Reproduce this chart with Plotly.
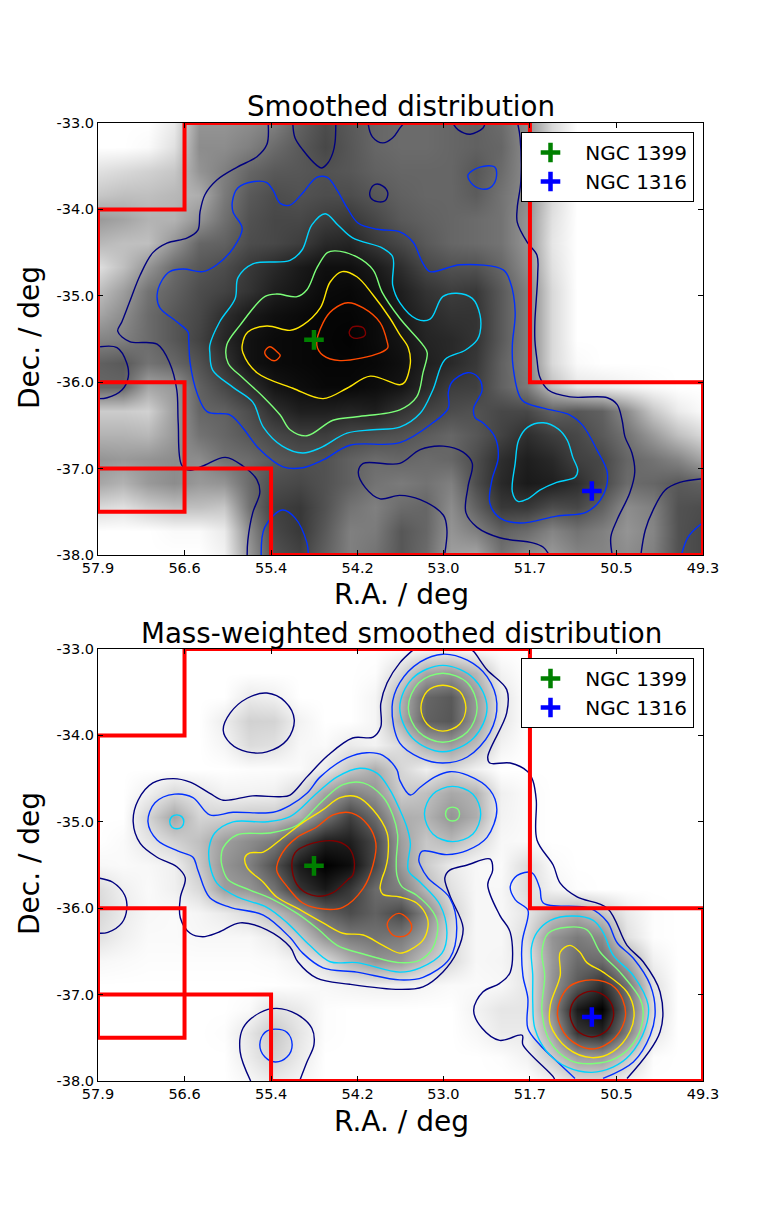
import numpy as np
import plotly.graph_objects as go

# the page body adds an 8px margin, so the figure is 8px smaller and everything sits 8px up-left
W, H = 773, 1197
OFF = 8
FONT = "DejaVu Sans"

tick_ra = [57.9, 56.67, 55.44, 54.21, 52.99, 51.76, 50.53, 49.3]
tick_ra_text = ["57.9", "56.6", "55.4", "54.2", "53.0", "51.7", "50.5", "49.3"]
tick_dec = [-33, -34, -35, -36, -37, -38]
tick_dec_text = ["-33.0", "-34.0", "-35.0", "-36.0", "-37.0", "-38.0"]

ngc1399 = ([54.83], [-35.51])
ngc1316 = ([50.88], [-37.26])

red_ra = [57.9, 56.67, 56.67, 51.76, 51.76, 49.3, 49.3, 55.44, 55.44, 57.9, None,
          57.9, 56.67, 56.67, 57.9, None, 57.9, 57.9]
red_dec = [-34, -34, -33, -33, -36, -36, -38, -38, -37, -37, None,
           -36, -36, -37.5, -37.5, None, -34, -37.5]

# darkness 0-100, rows from Dec -33 to -38
smooth_grid = [
    [0, 0, 0, 8, 42, 42, 45, 50, 62, 70, 65, 60, 58, 58, 60, 62, 58, 45, 15, 0, 0, 0, 0, 0, 0],
    [0, 0, 2, 12, 45, 45, 50, 58, 65, 72, 66, 60, 58, 58, 60, 62, 60, 45, 15, 0, 0, 0, 0, 0, 0],
    [12, 15, 18, 22, 42, 50, 60, 65, 66, 68, 66, 62, 60, 60, 60, 66, 58, 45, 15, 0, 0, 0, 0, 0, 0],
    [22, 25, 25, 28, 32, 52, 65, 70, 68, 70, 70, 66, 62, 60, 60, 64, 55, 45, 15, 0, 0, 0, 0, 0, 0],
    [40, 36, 30, 30, 42, 56, 68, 72, 72, 76, 78, 72, 65, 62, 60, 58, 55, 42, 12, 0, 0, 0, 0, 0, 0],
    [28, 25, 25, 42, 60, 62, 70, 72, 76, 84, 86, 78, 72, 65, 60, 58, 55, 42, 10, 0, 0, 0, 0, 0, 0],
    [12, 25, 42, 58, 66, 70, 78, 84, 90, 94, 94, 90, 82, 72, 68, 68, 60, 45, 12, 0, 0, 0, 0, 0, 0],
    [25, 38, 55, 62, 70, 74, 80, 88, 92, 96, 97, 94, 88, 80, 76, 78, 65, 50, 15, 0, 0, 0, 0, 0, 0],
    [35, 45, 58, 66, 72, 82, 90, 94, 96, 98, 98, 96, 90, 84, 80, 80, 65, 50, 15, 0, 0, 0, 0, 0, 0],
    [48, 50, 58, 66, 74, 85, 93, 96, 97, 98, 99, 96, 92, 86, 84, 80, 65, 50, 15, 0, 0, 0, 0, 0, 0],
    [62, 65, 55, 60, 68, 80, 93, 96, 97, 98, 98, 97, 94, 88, 84, 78, 62, 50, 15, 2, 0, 0, 0, 0, 0],
    [60, 60, 35, 40, 62, 72, 82, 92, 95, 97, 97, 95, 92, 84, 76, 75, 62, 52, 25, 10, 8, 5, 2, 0, 0],
    [20, 20, 18, 38, 60, 62, 70, 82, 88, 88, 86, 88, 80, 74, 70, 68, 72, 72, 62, 66, 62, 45, 22, 8, 2],
    [30, 30, 28, 40, 55, 60, 66, 72, 76, 76, 72, 70, 68, 64, 60, 66, 74, 82, 76, 72, 65, 55, 40, 25, 15],
    [42, 40, 42, 45, 45, 55, 58, 65, 68, 68, 62, 58, 60, 58, 60, 70, 82, 88, 84, 75, 72, 60, 55, 48, 35],
    [35, 30, 40, 45, 40, 42, 58, 70, 72, 68, 62, 55, 52, 55, 50, 70, 84, 90, 88, 82, 72, 58, 60, 65, 62],
    [15, 12, 20, 25, 25, 22, 55, 75, 78, 68, 55, 50, 58, 60, 45, 62, 78, 78, 70, 72, 62, 45, 50, 68, 70],
    [0, 0, 0, 2, 2, 8, 45, 72, 78, 65, 50, 52, 66, 60, 42, 50, 62, 58, 48, 55, 50, 42, 48, 68, 72],
    [0, 0, 0, 0, 0, 5, 40, 68, 74, 62, 50, 55, 66, 58, 38, 35, 55, 45, 40, 48, 48, 45, 50, 68, 72],
]

# same for the lower, mass-weighted map
mass_grid = [
    [0, 0, 0, 0, 0, 0, 0, 0, 0, 0, 0, 0, 1, 3, 3, 1, 0, 0, 0, 0, 0, 0, 0, 0, 0],
    [0, 0, 0, 0, 0, 0, 0, 0, 0, 0, 0, 1, 15, 35, 40, 28, 5, 0, 0, 0, 0, 0, 0, 0, 0],
    [0, 0, 0, 0, 0, 0, 8, 6, 0, 0, 0, 4, 30, 60, 65, 40, 10, 0, 0, 0, 0, 0, 0, 0, 0],
    [0, 0, 0, 0, 0, 7, 18, 17, 5, 0, 0, 4, 32, 62, 66, 40, 10, 0, 0, 0, 0, 0, 0, 0, 0],
    [0, 0, 0, 0, 0, 4, 14, 12, 3, 2, 8, 5, 14, 32, 38, 25, 5, 0, 0, 0, 0, 0, 0, 0, 0],
    [0, 0, 0, 0, 0, 0, 1, 1, 2, 8, 22, 32, 16, 6, 15, 6, 0, 0, 0, 0, 0, 0, 0, 0, 0],
    [0, 0, 6, 15, 10, 5, 5, 6, 15, 36, 50, 42, 20, 25, 34, 30, 6, 2, 0, 0, 0, 0, 0, 0, 0],
    [0, 0, 17, 35, 17, 18, 22, 22, 32, 55, 75, 58, 32, 30, 42, 32, 5, 2, 0, 0, 0, 0, 0, 0, 0],
    [0, 2, 10, 18, 25, 38, 45, 52, 72, 88, 88, 72, 38, 22, 28, 16, 3, 2, 0, 0, 0, 0, 0, 0, 0],
    [3, 2, 3, 6, 22, 42, 50, 68, 90, 100, 95, 72, 40, 20, 8, 3, 2, 14, 2, 0, 0, 0, 0, 0, 0],
    [14, 6, 2, 6, 15, 38, 42, 55, 80, 90, 78, 58, 50, 28, 12, 3, 3, 14, 5, 1, 0, 0, 0, 0, 0],
    [16, 8, 3, 2, 4, 8, 14, 26, 42, 62, 70, 62, 72, 48, 18, 3, 3, 10, 24, 32, 22, 8, 1, 0, 0],
    [12, 6, 2, 2, 3, 3, 3, 8, 22, 42, 52, 55, 52, 38, 14, 3, 3, 14, 42, 52, 45, 12, 1, 0, 0],
    [3, 2, 1, 1, 1, 1, 1, 2, 6, 14, 30, 42, 40, 24, 14, 3, 4, 10, 40, 58, 58, 35, 6, 0, 0],
    [0, 0, 0, 0, 0, 0, 0, 0, 1, 3, 5, 6, 6, 4, 2, 2, 3, 10, 42, 65, 82, 55, 12, 0, 0],
    [0, 0, 0, 0, 0, 0, 2, 12, 8, 1, 0, 0, 0, 0, 0, 5, 10, 10, 45, 90, 100, 60, 14, 0, 0],
    [0, 0, 0, 0, 0, 1, 10, 22, 10, 1, 0, 0, 0, 0, 0, 3, 8, 8, 35, 78, 85, 50, 10, 0, 0],
    [0, 0, 0, 0, 0, 0, 8, 18, 8, 0, 0, 0, 0, 0, 0, 0, 1, 5, 20, 38, 40, 22, 1, 0, 0],
    [0, 0, 0, 0, 0, 0, 3, 8, 4, 0, 0, 0, 0, 0, 0, 0, 0, 0, 5, 14, 14, 5, 0, 0, 0],
]

navy = "#00007f"
blue = "#0030ff"
cyan = "#00d4ff"
green = "#7cff79"
yellow = "#ffe600"
orange = "#ff4a00"
darkred = "#7f0000"

# contour lines, (R.A., Dec.)
s_navy_a = ([55.48, 55.50, 55.64, 55.92, 56.21, 56.38, 56.45, 56.48, 56.63, 56.92, 57.12, 57.30, 57.45, 57.56, 57.62, 57.45, 57.06, 56.88, 56.78, 56.76, 56.71, 56.59, 56.41, 56.09, 55.84, 55.64, 55.60, 55.70, 55.77, 55.78],
            [-33.02, -33.25, -33.39, -33.51, -33.66, -33.83, -34.03, -34.24, -34.33, -34.39, -34.50, -34.76, -35.07, -35.30, -35.41, -35.53, -35.56, -35.78, -36.09, -36.47, -36.96, -37.02, -36.97, -36.87, -36.97, -37.13, -37.28, -37.51, -37.83, -38.01])
s_navy_b = ([55.13, 55.10, 54.99, 54.79, 54.72, 54.63, 54.56, 54.53, 54.52],
            [-33.02, -33.17, -33.31, -33.49, -33.52, -33.46, -33.34, -33.22, -33.02])
s_navy_c = ([54.06, 54.00, 53.85, 53.71, 53.61, 53.56], [-33.01, -33.16, -33.23, -33.17, -33.06, -33.01])
s_navy_d = ([52.85, 52.78, 52.61, 52.43, 52.40], [-33.01, -33.08, -33.13, -33.06, -33.01])
s_navy_e = ([54.03, 53.96, 53.85, 53.78, 53.82, 53.93, 54.02, 54.03],
            [-33.78, -33.71, -33.73, -33.81, -33.90, -33.91, -33.87, -33.78])
s_navy_f = ([51.93, 51.90, 51.89, 51.94, 51.94, 51.80, 51.66, 51.65, 51.69, 51.69, 51.66, 51.62, 51.50, 51.19, 50.66, 50.52, 50.45, 50.41, 50.31, 50.27, 50.34, 50.52, 50.61, 50.59],
            [-33.02, -33.17, -33.68, -33.98, -34.15, -34.38, -34.53, -34.76, -35.30, -35.51, -35.74, -35.94, -36.09, -36.17, -36.18, -36.26, -36.44, -36.63, -36.82, -37.04, -37.28, -37.59, -37.79, -38.0])
s_navy_g = ([50.18, 50.12, 50.01, 49.84, 49.63, 49.34, 49.30], [-37.98, -37.71, -37.48, -37.25, -37.16, -37.12, -37.12])
s_navy_h = ([57.87, 57.63, 57.49, 57.47, 57.56, 57.77, 57.89], [-35.59, -35.60, -35.78, -35.94, -36.09, -36.18, -36.19])
s_navy_i = ([51.50, 51.57, 51.72, 52.19, 52.51, 52.67, 52.64, 52.58, 52.71, 52.99, 53.32, 53.61, 54.13, 54.20, 54.10, 53.89, 53.61, 53.32, 52.99, 52.94, 52.97],
            [-37.98, -37.91, -37.86, -37.80, -37.68, -37.51, -37.21, -36.94, -36.81, -36.74, -36.78, -36.94, -36.94, -37.04, -37.22, -37.35, -37.31, -37.36, -37.54, -37.71, -37.98])
s_blue_a = ([56.62, 56.78, 57.02, 57.06, 56.99, 56.88, 56.69, 56.41, 56.21, 55.98, 55.85, 55.98, 55.99, 55.91, 55.70, 55.50, 55.41, 55.31, 55.17, 54.99, 54.79, 54.64, 54.50, 54.36, 54.20, 53.93, 53.61, 53.42, 53.29, 53.18, 52.75, 52.14, 52.04, 51.97, 52.01, 52.00, 51.87, 51.57, 51.19, 51.01, 50.81, 50.66, 50.72, 50.95, 51.38, 51.90, 52.19, 52.33, 52.30, 52.21, 52.26, 52.43, 52.54, 52.56, 52.44, 52.50, 52.65, 52.87, 52.92, 52.92, 53.14, 53.61, 54.32, 54.70, 54.99, 55.27, 55.60, 55.84, 56.02, 56.35, 56.49, 56.59, 56.61, 56.62],
            [-35.42, -35.30, -35.14, -34.99, -34.82, -34.72, -34.69, -34.72, -34.64, -34.45, -34.22, -34.03, -33.91, -33.75, -33.68, -33.69, -33.78, -33.93, -33.95, -33.81, -33.63, -33.63, -33.78, -33.98, -34.16, -34.23, -34.26, -34.38, -34.61, -34.72, -34.64, -34.70, -34.84, -35.19, -35.57, -35.82, -36.21, -36.30, -36.38, -36.50, -36.78, -37.05, -37.31, -37.50, -37.55, -37.63, -37.57, -37.40, -37.13, -36.87, -36.63, -36.47, -36.41, -36.30, -36.09, -35.94, -35.89, -36.00, -36.12, -36.30, -36.47, -36.70, -36.73, -36.90, -36.99, -36.98, -36.78, -36.53, -36.38, -36.34, -36.13, -35.78, -35.51, -35.42])
s_blue_b = ([52.64, 52.47, 52.26, 52.24, 52.33, 52.47, 52.60, 52.64], [-33.60, -33.51, -33.51, -33.64, -33.75, -33.76, -33.69, -33.60])
s_blue_c = ([55.58, 55.53, 55.28, 55.10, 54.93, 54.91], [-38.01, -37.68, -37.48, -37.57, -37.86, -38.0])
s_blue_d = ([49.60, 49.51, 49.34, 49.30], [-37.98, -37.79, -37.65, -37.63])
s_cyan_a = ([56.31, 56.17, 55.95, 55.91, 55.70, 55.17, 55.00, 54.86, 54.67, 54.49, 54.28, 53.85, 53.71, 53.71, 53.61, 53.37, 53.18, 53.00, 52.80, 52.58, 52.47, 52.47, 52.51, 52.68, 52.97, 53.14, 53.32, 53.61, 53.99, 54.36, 54.74, 54.99, 55.28, 55.55, 55.70, 55.98, 56.27, 56.31, 56.31],
            [-35.57, -35.30, -35.03, -34.79, -34.63, -34.59, -34.47, -34.18, -34.05, -34.18, -34.33, -34.45, -34.55, -34.88, -35.08, -35.27, -35.27, -35.01, -34.97, -35.03, -35.22, -35.43, -35.51, -35.63, -35.74, -36.09, -36.36, -36.52, -36.55, -36.59, -36.76, -36.82, -36.74, -36.52, -36.23, -36.06, -35.86, -35.66, -35.57])
s_cyan_b = ([51.92, 51.79, 51.57, 51.36, 51.23, 51.15, 51.08, 51.12, 51.38, 51.62, 51.79, 51.93, 52.01, 51.97, 51.92],
            [-36.67, -36.52, -36.47, -36.54, -36.67, -36.87, -37.02, -37.10, -37.16, -37.25, -37.35, -37.38, -37.27, -36.94, -36.67])
s_green = ([56.07, 55.88, 55.53, 55.36, 55.07, 54.93, 54.79, 54.64, 54.53, 54.22, 53.99, 53.86, 53.61, 53.28, 53.22, 53.28, 53.37, 53.61, 54.22, 54.56, 54.93, 55.17, 55.31, 55.55, 55.84, 56.05, 56.07],
           [-35.57, -35.34, -35.01, -34.98, -35.01, -34.93, -34.68, -34.50, -34.48, -34.55, -34.70, -34.96, -35.26, -35.57, -35.66, -35.89, -36.17, -36.32, -36.40, -36.44, -36.62, -36.55, -36.38, -36.17, -35.95, -35.78, -35.57])
s_yellow = ([55.85, 55.77, 55.50, 55.17, 54.99, 54.74, 54.60, 54.43, 54.22, 53.99, 53.75, 53.61, 53.49, 53.46, 53.54, 53.61, 54.03, 54.36, 54.70, 55.13, 55.64, 55.84, 55.85],
            [-35.57, -35.42, -35.35, -35.40, -35.34, -35.14, -34.84, -34.72, -34.78, -34.99, -35.26, -35.45, -35.60, -35.78, -36.00, -36.03, -35.93, -36.07, -36.19, -36.07, -35.89, -35.66, -35.57])
s_orange_a = ([54.79, 54.70, 54.56, 54.35, 54.13, 53.89, 53.79, 53.78, 53.89, 54.46, 54.70, 54.79],
              [-35.57, -35.31, -35.16, -35.08, -35.14, -35.31, -35.53, -35.60, -35.66, -35.75, -35.69, -35.57])
s_orange_b = ([55.53, 55.46, 55.34, 55.31, 55.38, 55.48, 55.53], [-35.65, -35.59, -35.66, -35.69, -35.75, -35.72, -35.65])
s_darkred = ([54.33, 54.28, 54.13, 54.10, 54.20, 54.29, 54.33], [-35.43, -35.36, -35.37, -35.45, -35.49, -35.48, -35.43])

m_navy_a = ([53.42, 53.61, 53.79, 53.88, 53.88, 53.99, 54.28, 54.63, 54.93, 55.17, 55.31, 55.70, 56.12, 56.31, 56.59, 56.83, 57.12, 57.33, 57.40, 57.30, 57.06, 56.78, 56.66, 56.73, 56.73, 56.59, 56.41, 56.19, 55.88, 55.50, 55.17, 55.06, 54.79, 54.32, 53.61, 53.28, 53.00, 52.80, 52.71, 52.90, 52.97, 52.90, 52.65, 52.33, 52.29, 52.36, 52.19, 52.04, 52.04, 52.19, 52.43, 52.56, 52.44, 52.19, 51.87, 51.86, 51.43, 51.40],
            [-33.01, -33.16, -33.39, -33.63, -33.90, -34.02, -34.03, -34.23, -34.48, -34.69, -34.71, -34.70, -34.75, -34.67, -34.54, -34.50, -34.55, -34.75, -35.00, -35.25, -35.41, -35.52, -35.65, -35.88, -36.11, -36.29, -36.33, -36.28, -36.17, -36.25, -36.45, -36.62, -36.81, -36.88, -36.94, -36.91, -36.74, -36.51, -36.23, -35.85, -35.65, -35.56, -35.50, -35.43, -35.56, -35.73, -36.08, -36.28, -36.74, -36.87, -36.97, -37.18, -37.39, -37.53, -37.47, -37.58, -37.95, -38.0])
m_navy_b = ([50.38, 49.91, 49.91, 50.15, 50.38, 50.66, 51.09, 51.33, 51.43, 51.66, 51.67, 51.72, 51.79, 52.04, 52.33, 52.36, 52.09, 52.09, 52.37, 52.56, 52.61],
            [-37.97, -37.43, -36.97, -36.62, -36.43, -36.00, -35.87, -35.71, -35.50, -35.21, -34.75, -34.52, -34.42, -34.32, -34.32, -34.25, -33.74, -33.47, -33.24, -33.03, -33.0])
m_navy_c = ([56.12, 56.02, 55.78, 55.50, 55.24, 55.11, 55.21, 55.50, 55.78, 56.02, 56.12],
            [-33.94, -33.74, -33.57, -33.51, -33.61, -33.82, -34.05, -34.19, -34.19, -34.09, -33.94])
m_navy_d = ([57.89, 57.69, 57.52, 57.49, 57.56, 57.76, 57.89], [-35.65, -35.70, -35.85, -36.00, -36.17, -36.28, -36.29])
m_navy_e = ([55.73, 55.88, 55.84, 55.60, 55.36, 55.07, 54.86, 54.83, 54.93, 55.03],
            [-38.0, -37.66, -37.39, -37.21, -37.16, -37.23, -37.39, -37.58, -37.78, -37.99])
m_blue_a = ([56.48, 56.55, 56.76, 57.06, 57.19, 57.09, 56.81, 56.55, 56.31, 55.98, 55.41, 55.17, 54.93, 54.74, 54.36, 54.08, 53.85, 53.65, 53.61, 53.46, 53.32, 53.11, 52.90, 52.65, 52.33, 52.23, 52.37, 52.65, 52.94, 53.29, 53.34, 53.32, 53.21, 52.90, 52.80, 52.90, 53.28, 53.61, 54.22, 54.70, 54.99, 55.17, 55.55, 56.02, 56.31, 56.48],
            [-35.56, -35.41, -35.34, -35.21, -35.00, -34.78, -34.68, -34.72, -34.92, -34.89, -34.89, -34.81, -34.67, -34.48, -34.26, -34.20, -34.23, -34.40, -34.52, -34.69, -34.60, -34.48, -34.42, -34.46, -34.63, -34.86, -35.18, -35.33, -35.38, -35.34, -35.44, -35.50, -35.65, -35.88, -36.23, -36.58, -36.80, -36.83, -36.74, -36.69, -36.52, -36.34, -36.08, -35.99, -35.88, -35.56])
m_blue_b = ([53.00, 52.65, 52.37, 52.23, 52.33, 52.65, 53.00, 53.32, 53.61, 53.72, 53.61, 53.32, 53.00],
            [-33.06, -33.13, -33.32, -33.63, -33.97, -34.25, -34.32, -34.26, -34.09, -33.67, -33.39, -33.15, -33.06])
m_blue_c = ([55.60, 55.53, 55.38, 55.21, 55.14, 55.21, 55.38, 55.53, 55.60],
            [-37.58, -37.44, -37.40, -37.44, -37.58, -37.72, -37.78, -37.72, -37.58])
m_blue_d = ([51.12, 51.33, 51.62, 51.79, 51.79, 51.86, 51.87, 51.79, 51.79, 51.97, 52.04, 51.94, 51.73, 51.62, 51.57, 50.91, 50.66, 50.52, 50.29, 50.05, 49.98, 50.05, 50.29, 50.72],
            [-37.97, -37.81, -37.58, -37.39, -37.04, -36.78, -36.39, -36.11, -36.02, -35.90, -35.75, -35.62, -35.59, -35.77, -35.94, -36.00, -36.16, -36.40, -36.58, -36.89, -37.20, -37.47, -37.78, -37.97])
m_cyan_a = ([56.32, 56.24, 55.98, 55.50, 55.17, 54.79, 54.50, 54.18, 53.93, 53.75, 53.61, 53.51, 53.46, 53.49, 53.32, 53.04, 52.94, 53.01, 53.32, 53.61, 54.22, 54.60, 54.89, 55.21, 55.50, 55.92, 56.21, 56.31, 56.32],
            [-35.30, -35.13, -35.00, -35.00, -34.94, -34.67, -34.48, -34.38, -34.44, -34.63, -34.86, -35.06, -35.25, -35.56, -35.70, -35.96, -36.28, -36.52, -36.69, -36.74, -36.63, -36.62, -36.43, -36.17, -35.99, -35.87, -35.71, -35.50, -35.30])
m_cyan_b = ([53.00, 52.56, 52.37, 52.56, 53.00, 53.43, 53.61, 53.43, 53.00],
            [-33.19, -33.34, -33.68, -34.03, -34.19, -34.03, -33.68, -33.34, -33.19])
m_cyan_c = ([52.86, 52.57, 52.46, 52.57, 52.86, 53.14, 53.26, 53.14, 52.86],
            [-34.59, -34.68, -34.91, -35.14, -35.23, -35.14, -34.91, -34.68, -34.59])
m_cyan_d = ([56.78, 56.71, 56.68, 56.71, 56.78, 56.85, 56.88, 56.85, 56.78],
            [-34.92, -34.94, -35.00, -35.06, -35.08, -35.06, -35.00, -34.94, -34.92])
m_cyan_e = ([50.88, 51.23, 51.52, 51.69, 51.72, 51.72, 51.74, 51.66, 51.47, 51.15, 50.86, 50.72, 50.58, 50.29, 50.08, 50.12, 50.34, 50.58, 50.88],
            [-37.90, -37.84, -37.66, -37.39, -37.09, -36.78, -36.46, -36.28, -36.14, -36.09, -36.14, -36.28, -36.54, -36.78, -37.12, -37.39, -37.70, -37.84, -37.90])
m_green_a = ([56.15, 56.12, 55.92, 55.46, 55.07, 54.70, 54.42, 54.13, 53.85, 53.71, 53.64, 53.66, 53.65, 53.58, 53.37, 53.14, 53.07, 53.14, 53.32, 53.61, 54.13, 54.50, 54.79, 55.07, 55.46, 55.74, 56.05, 56.14, 56.15],
             [-35.41, -35.30, -35.15, -35.13, -35.04, -34.75, -34.57, -34.55, -34.71, -34.92, -35.15, -35.44, -35.62, -35.75, -35.85, -36.04, -36.19, -36.46, -36.60, -36.63, -36.53, -36.43, -36.23, -36.06, -35.88, -35.79, -35.67, -35.50, -35.41])
m_green_b = ([53.00, 52.65, 52.51, 52.65, 53.00, 53.34, 53.49, 53.34, 53.00],
             [-33.28, -33.39, -33.68, -33.96, -34.08, -33.96, -33.68, -33.39, -33.28])
m_green_c = ([52.86, 52.79, 52.76, 52.79, 52.86, 52.93, 52.96, 52.93, 52.86],
             [-34.83, -34.85, -34.91, -34.97, -34.99, -34.97, -34.91, -34.85, -34.83])
m_green_d = ([50.88, 51.19, 51.47, 51.59, 51.55, 51.59, 51.50, 51.23, 50.95, 50.76, 50.48, 50.20, 50.15, 50.24, 50.52, 50.88],
             [-37.80, -37.76, -37.55, -37.20, -36.78, -36.51, -36.29, -36.22, -36.25, -36.51, -36.74, -37.04, -37.20, -37.50, -37.73, -37.80])
m_yellow_a = ([55.81, 55.74, 55.55, 55.31, 54.99, 54.70, 54.46, 54.22, 53.99, 53.79, 53.78, 53.82, 53.86, 53.89, 53.85, 53.61, 53.37, 53.22, 53.21, 53.28, 53.46, 53.61, 53.85, 54.13, 54.42, 54.70, 55.07, 55.36, 55.55, 55.78, 55.81],
              [-35.41, -35.36, -35.35, -35.21, -35.01, -34.86, -34.72, -34.71, -34.86, -35.13, -35.41, -35.56, -35.65, -35.77, -35.84, -35.87, -35.94, -36.11, -36.22, -36.37, -36.48, -36.52, -36.43, -36.31, -36.29, -36.17, -36.00, -35.87, -35.70, -35.53, -35.41])
m_yellow_b = ([53.00, 52.76, 52.67, 52.76, 53.00, 53.22, 53.31, 53.22, 53.00],
              [-33.42, -33.49, -33.68, -33.87, -33.95, -33.87, -33.68, -33.49, -33.42])
m_yellow_c = ([50.88, 51.23, 51.47, 51.47, 51.33, 51.33, 51.19, 51.05, 50.95, 50.72, 50.38, 50.28, 50.34, 50.58, 50.88],
              [-37.73, -37.62, -37.35, -37.12, -36.78, -36.51, -36.43, -36.51, -36.63, -36.74, -36.97, -37.20, -37.43, -37.66, -37.73])
m_orange_a = ([55.36, 55.28, 55.07, 54.79, 54.56, 54.29, 54.06, 53.95, 53.99, 54.13, 54.42, 54.70, 54.99, 55.21, 55.36],
              [-35.56, -35.36, -35.18, -35.06, -34.92, -34.90, -35.04, -35.25, -35.50, -35.77, -35.99, -36.01, -35.94, -35.75, -35.56])
m_orange_b = ([53.79, 53.71, 53.62, 53.51, 53.44, 53.51, 53.62, 53.71, 53.79],
              [-36.19, -36.09, -36.06, -36.11, -36.22, -36.31, -36.33, -36.31, -36.19])
m_orange_c = ([50.88, 50.55, 50.40, 50.55, 50.88, 51.22, 51.37, 51.22, 50.88],
              [-36.83, -36.92, -37.22, -37.50, -37.63, -37.50, -37.22, -36.92, -36.83])
m_darkred_a = ([55.14, 55.10, 54.93, 54.56, 54.35, 54.26, 54.28, 54.35, 54.56, 54.79, 55.03, 55.14],
               [-35.56, -35.36, -35.27, -35.22, -35.29, -35.44, -35.62, -35.67, -35.82, -35.86, -35.77, -35.56])
m_darkred_b = ([50.88, 50.66, 50.57, 50.66, 50.88, 51.10, 51.19, 51.10, 50.88],
               [-36.96, -37.04, -37.22, -37.41, -37.49, -37.41, -37.22, -37.04, -36.96])

smooth_lines = [
    (navy, s_navy_a), (navy, s_navy_b), (navy, s_navy_c), (navy, s_navy_d), (navy, s_navy_e),
    (navy, s_navy_f), (navy, s_navy_g), (navy, s_navy_h), (navy, s_navy_i),
    (blue, s_blue_a), (blue, s_blue_b), (blue, s_blue_c), (blue, s_blue_d),
    (cyan, s_cyan_a), (cyan, s_cyan_b), (green, s_green), (yellow, s_yellow),
    (orange, s_orange_a), (orange, s_orange_b), (darkred, s_darkred),
]
mass_lines = [
    (navy, m_navy_a), (navy, m_navy_b), (navy, m_navy_c), (navy, m_navy_d), (navy, m_navy_e),
    (blue, m_blue_a), (blue, m_blue_b), (blue, m_blue_c), (blue, m_blue_d),
    (cyan, m_cyan_a), (cyan, m_cyan_b), (cyan, m_cyan_c), (cyan, m_cyan_d), (cyan, m_cyan_e),
    (green, m_green_a), (green, m_green_b), (green, m_green_c), (green, m_green_d),
    (yellow, m_yellow_a), (yellow, m_yellow_b), (yellow, m_yellow_c),
    (orange, m_orange_a), (orange, m_orange_b), (orange, m_orange_c),
    (darkred, m_darkred_a), (darkred, m_darkred_b),
]

grid_ra = np.linspace(57.9, 49.3, 25)
grid_dec = np.linspace(-33, -38, 19)


def px_x(px):
    return (px - OFF) / W


def px_y(py):
    return 1 - (py - OFF) / H


def add_panel(fig, grid, lines, n, legend):
    ax = "" if n == 1 else str(n)
    fig.add_trace(go.Heatmap(
        x=grid_ra, y=grid_dec, z=grid, zmin=0, zmax=100, zsmooth="best",
        colorscale=[[0, "#ffffff"], [1, "#000000"]], showscale=False, hoverinfo="skip",
        xaxis="x" + ax, yaxis="y" + ax,
    ))
    for color, (ra, dec) in lines:
        fig.add_trace(go.Scatter(
            x=ra, y=dec, mode="lines", showlegend=False, hoverinfo="skip",
            line=dict(color=color, width=1.4, shape="spline", smoothing=1.0),
            xaxis="x" + ax, yaxis="y" + ax,
        ))
    fig.add_trace(go.Scatter(
        x=red_ra, y=red_dec, mode="lines", showlegend=False, hoverinfo="skip",
        line=dict(color="#ff0000", width=4), xaxis="x" + ax, yaxis="y" + ax,
    ))
    for name, (ra, dec), color in [("\u00a0NGC 1399", ngc1399, "#008000"), ("\u00a0NGC 1316", ngc1316, "#0000ff")]:
        fig.add_trace(go.Scatter(
            x=ra, y=dec, mode="markers", name=name, legend=legend,
            marker=dict(symbol="cross-thin", size=14, line=dict(color=color, width=4.5)),
            xaxis="x" + ax, yaxis="y" + ax,
        ))


fig = go.Figure()
add_panel(fig, smooth_grid, smooth_lines, 1, "legend")
add_panel(fig, mass_grid, mass_lines, 2, "legend2")

x_axis = dict(
    range=[57.9, 49.3], tickvals=tick_ra, ticktext=tick_ra_text, ticks="inside", ticklen=5,
    tickcolor="black", mirror="allticks", showline=True, linecolor="black", linewidth=1,
    showgrid=False, zeroline=False, domain=[px_x(98), px_x(703)], tickfont=dict(size=14.5),
    automargin=False,
)
y_axis = dict(
    range=[-38, -33], tickvals=tick_dec, ticktext=tick_dec_text, ticks="inside", ticklen=5,
    tickcolor="black", mirror="allticks", showline=True, linecolor="black", linewidth=1,
    showgrid=False, zeroline=False, tickfont=dict(size=14.5), automargin=False,
)
legend_style = dict(
    xanchor="left", yanchor="top", bgcolor="white", bordercolor="black", borderwidth=1,
    font=dict(size=20), itemwidth=47, itemsizing="trace", entrywidth=125,
)


def label(text, px, py, size=28, angle=0):
    return dict(text=text, x=px_x(px), y=px_y(py), xref="paper", yref="paper", xanchor="center",
                yanchor="middle", showarrow=False, textangle=angle, font=dict(size=size))


fig.update_layout(
    width=W, height=H, margin=dict(l=0, r=0, t=0, b=0), paper_bgcolor="white", plot_bgcolor="white",
    font=dict(family=FONT, color="black"), showlegend=True,
    xaxis=dict(x_axis, anchor="y"),
    yaxis=dict(y_axis, anchor="x", domain=[px_y(555), px_y(123)]),
    xaxis2=dict(x_axis, anchor="y2"),
    yaxis2=dict(y_axis, anchor="x2", domain=[px_y(1081), px_y(649)]),
    legend=dict(legend_style, x=px_x(521), y=px_y(132)),
    legend2=dict(legend_style, x=px_x(521), y=px_y(658)),
    annotations=[
        label("Smoothed distribution", 401, 107, size=27.7),
        label("Mass-weighted smoothed distribution", 401, 633, size=27.7),
        label("R.A. / deg", 401, 595),
        label("R.A. / deg", 401, 1121),
        label("Dec. / deg", 29, 338, angle=-90),
        label("Dec. / deg", 29, 864, angle=-90),
    ],
)

fig.write_html("out.html")
